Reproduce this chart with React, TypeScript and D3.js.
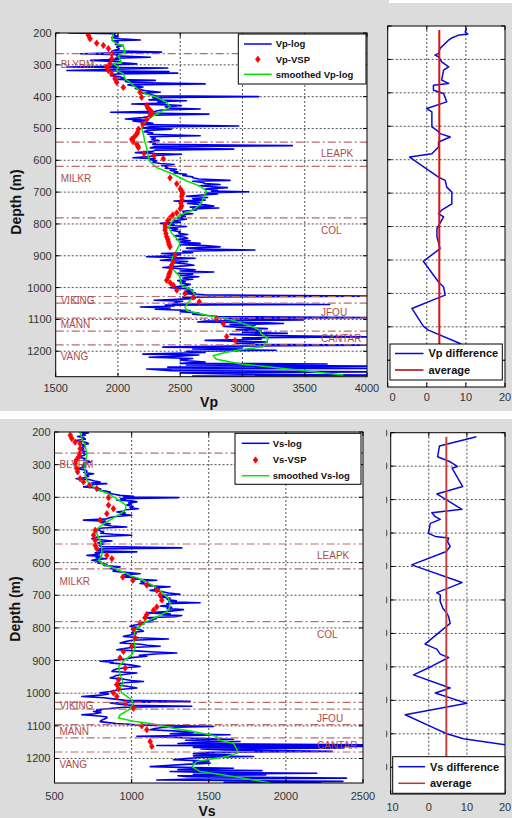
import * as d3 from "d3";

type P = [number, number];

// axis ticks
const depthTicks = [200, 300, 400, 500, 600, 700, 800, 900, 1000, 1100, 1200];
const vpTicks = [1500, 2000, 2500, 3000, 3500, 4000];
const vsTicks = [500, 1000, 1500, 2000, 2500];
const diffTicks = [-10, 0, 10, 20];

// formation tops (m) and labels
const formationTops = [265, 543, 619, 781, 1028, 1049, 1096, 1137, 1180];
const formationNames = ["BLYRM", "MILKR", "LEAPK", "COL", "VIKING", "JFOU", "MANN", "CANTAR", "VANG"];
const formationLabelDepths = [300, 658, 579, 820, 1039, 1077, 1117, 1160, 1217];
const formationSides = ["L", "L", "R", "R", "L", "R", "L", "R", "L"];

// [depth, Vp]
const vpLog: P[] = [
  [200, 1600], [202, 1980], [206, 1960], [210, 2000], [214, 1950], [218, 2020], [222, 2180], [224, 1960], [230, 2000], [236, 1980],
  [239, 2040], [244, 1990], [250, 2010], [256, 1960], [260, 2350], [262, 2000], [265, 1700], [268, 2010], [272, 1990], [276, 2260],
  [279, 1980], [283, 2010], [286, 1780], [290, 2000], [294, 2040], [297, 2150], [300, 1960], [304, 1990], [307, 1590], [310, 2400],
  [314, 1980], [318, 1590], [321, 2410], [324, 2000], [326, 2480], [329, 1990], [334, 1940], [338, 2020], [342, 2050], [346, 2000],
  [349, 2300], [352, 2060], [356, 2100], [360, 2700], [363, 2080], [366, 2120], [370, 2200], [374, 2140], [378, 2180], [382, 2230],
  [386, 2340], [389, 2200], [393, 2260], [397, 2300], [400, 3130], [403, 2280], [407, 2350], [410, 2250], [413, 2550], [416, 2320],
  [420, 2380], [423, 2110], [426, 2400], [428, 2510], [432, 2380], [436, 2420], [439, 2660], [442, 2350], [446, 2300], [449, 1940],
  [452, 2330], [455, 2730], [458, 2280], [462, 2250], [466, 2200], [470, 2060], [474, 2240], [476, 2120], [480, 2200], [484, 2280],
  [488, 2210], [492, 2970], [495, 2260], [499, 2200], [502, 2430], [506, 2240], [510, 2210], [514, 2280], [518, 2240], [523, 2660],
  [526, 2260], [530, 2300], [534, 2270], [538, 2330], [542, 2250], [546, 2300], [550, 2280], [554, 3400], [557, 2300], [561, 2260],
  [565, 2930], [568, 2300], [572, 2280], [576, 2140], [579, 2300], [581, 2510], [585, 2300], [588, 2250], [592, 2120], [595, 2300],
  [598, 2260], [602, 2310], [606, 2280], [610, 2340], [613, 2450], [617, 2350], [621, 2400], [625, 2380], [628, 2470], [632, 2420],
  [636, 2480], [640, 2450], [644, 2550], [648, 2520], [652, 2600], [655, 2600], [659, 2650], [663, 2900], [666, 2600], [670, 2680],
  [673, 2700], [676, 2820], [680, 2650], [683, 2750], [686, 2880], [690, 2700], [694, 2800], [697, 2750], [699, 3050], [703, 2700],
  [706, 2800], [710, 2650], [713, 2550], [717, 2720], [721, 2600], [725, 2700], [728, 2450], [732, 2660], [736, 2560], [740, 2700],
  [744, 2770], [747, 2580], [750, 2810], [753, 2600], [756, 2630], [760, 2520], [765, 2530], [768, 2600], [772, 2500], [776, 2540],
  [781, 2480], [785, 2550], [790, 2440], [795, 2500], [798, 2340], [802, 2450], [805, 2420], [808, 2550], [812, 2400], [816, 2480],
  [820, 2430], [825, 2500], [829, 2490], [833, 2560], [837, 2450], [841, 2530], [845, 2560], [849, 2470], [853, 2580], [857, 2500],
  [861, 2660], [865, 2500], [868, 2700], [872, 2820], [876, 2550], [879, 2650], [882, 3100], [886, 2520], [890, 2600], [893, 2350],
  [897, 2500], [900, 2420], [903, 2230], [906, 2500], [908, 2620], [911, 2430], [914, 2340], [918, 2560], [922, 2450], [926, 2550],
  [930, 2610], [934, 2450], [937, 2360], [940, 2470], [944, 2620], [948, 2500], [951, 2770], [955, 2480], [958, 2600], [962, 2500],
  [966, 2650], [970, 2520], [974, 2600], [978, 2480], [982, 2540], [986, 2500], [990, 2580], [993, 2560], [997, 2480], [1000, 2420],
  [1004, 2560], [1008, 2600], [1012, 2540], [1016, 2620], [1019, 2540], [1023, 2700], [1027, 4100], [1030, 2520], [1034, 2620], [1037, 2480],
  [1040, 2290], [1043, 2520], [1047, 2460], [1051, 2440], [1053, 3700], [1055, 2380], [1058, 2450], [1061, 2180], [1064, 2420], [1068, 2300],
  [1072, 2580], [1076, 2500], [1080, 2650], [1084, 2600], [1087, 2700], [1091, 2800], [1094, 4100], [1097, 2850], [1100, 3140], [1102, 3490],
  [1105, 2700], [1108, 2640], [1111, 3200], [1113, 3330], [1116, 2900], [1119, 3100], [1122, 2850], [1126, 3050], [1129, 3200], [1132, 2950],
  [1136, 3150], [1140, 3000], [1144, 3360], [1147, 2900], [1151, 3200], [1155, 4100], [1158, 3000], [1162, 3150], [1166, 2700], [1169, 3000],
  [1171, 3200], [1175, 2950], [1178, 3100], [1181, 4100], [1184, 2900], [1187, 2360], [1190, 3000], [1193, 2600], [1197, 3270], [1200, 2550],
  [1204, 2700], [1209, 2200], [1212, 2650], [1216, 2450], [1219, 2250], [1223, 2600], [1227, 2500], [1230, 2560], [1234, 2700], [1238, 2500],
  [1240, 3680], [1243, 2550], [1247, 4100], [1250, 2400], [1254, 4100], [1256, 2230], [1261, 2430], [1265, 4100], [1268, 2500], [1272, 3000],
  [1275, 4100], [1278, 2600], [1280, 3000],
];

const vpVsp: P[] = [
  [207, 1762], [218, 1776], [232, 1829], [239, 1883], [249, 1923], [265, 1950], [281, 1950], [297, 1936], [307, 1909], [318, 1923],
  [328, 1950], [344, 1976], [355, 1990], [371, 2043], [386, 2177], [402, 2190], [428, 2231], [436, 2240], [442, 2257], [449, 2271],
  [458, 2260], [471, 2231], [486, 2200], [502, 2164], [512, 2157], [518, 2150], [527, 2130], [534, 2110], [541, 2120], [549, 2150],
  [555, 2160], [560, 2164], [579, 2209], [586, 2289], [595, 2364], [655, 2418], [674, 2472], [690, 2500], [697, 2512], [705, 2520],
  [713, 2512], [725, 2515], [735, 2505], [744, 2512], [752, 2500], [765, 2472], [772, 2440], [781, 2418], [790, 2400], [803, 2378],
  [810, 2380], [819, 2378], [830, 2385], [840, 2391], [848, 2400], [856, 2405], [864, 2410], [872, 2418], [898, 2458], [919, 2445],
  [930, 2430], [940, 2425], [951, 2418], [958, 2410], [966, 2405], [977, 2391], [985, 2420], [993, 2445], [1008, 2472], [1019, 2538],
  [1030, 2605], [1045, 2653], [1098, 2792], [1114, 2846], [1154, 2873], [1166, 2940],
];

const vpSmooth: P[] = [
  [200, 1963], [210, 1960], [223, 1950], [234, 1990], [239, 2043], [250, 2050], [260, 2056], [270, 2003], [282, 2015], [292, 2030],
  [297, 1963], [307, 2003], [318, 1990], [328, 2043], [344, 2056], [355, 2097], [365, 2123], [381, 2177], [392, 2230], [402, 2311],
  [418, 2391], [432, 2418], [444, 2364], [460, 2284], [476, 2230], [492, 2190], [505, 2195], [518, 2204], [540, 2215], [560, 2230],
  [580, 2240], [602, 2252], [623, 2311], [644, 2445], [665, 2552], [681, 2659], [697, 2712], [718, 2686], [735, 2670], [756, 2605],
  [772, 2500], [787, 2445], [808, 2405], [829, 2431], [845, 2470], [861, 2498], [882, 2472], [903, 2440], [935, 2423], [966, 2498],
  [993, 2511], [1008, 2592], [1024, 2619], [1040, 2578], [1061, 2538], [1072, 2552], [1087, 2712], [1103, 2926], [1124, 3087], [1134, 3139],
  [1145, 3150], [1160, 3206], [1172, 3190], [1186, 3166], [1195, 2984], [1205, 2850], [1214, 2765], [1225, 2790], [1240, 2990], [1255, 3350],
  [1275, 3810],
];

// [depth, Vs]
const vsLog: P[] = [
  [200, 660], [203, 720], [206, 680], [210, 700], [214, 650], [218, 690], [222, 700], [226, 634], [230, 690], [233, 710],
  [236, 720], [240, 680], [244, 700], [248, 670], [252, 690], [256, 666], [260, 700], [264, 680], [268, 700], [272, 690],
  [277, 645], [281, 700], [285, 690], [289, 720], [292, 731], [296, 690], [300, 700], [304, 680], [308, 700], [312, 634],
  [316, 700], [320, 710], [324, 690], [328, 753], [332, 700], [336, 720], [340, 690], [343, 640], [346, 730], [350, 760],
  [353, 796], [356, 740], [358, 839], [361, 750], [364, 740], [368, 688], [371, 770], [375, 800], [378, 780], [381, 830],
  [384, 861], [387, 850], [390, 880], [394, 925], [397, 1012], [399, 950], [401, 1304], [404, 930], [407, 960], [409, 904],
  [411, 1000], [414, 1034], [417, 980], [420, 1000], [424, 969], [428, 1010], [432, 990], [435, 1044], [438, 960], [442, 950],
  [445, 904], [448, 960], [452, 930], [455, 1001], [459, 900], [462, 860], [466, 840], [470, 688], [473, 830], [477, 800],
  [481, 861], [484, 820], [488, 870], [491, 969], [494, 810], [498, 780], [503, 796], [506, 820], [510, 800], [513, 880],
  [516, 1001], [520, 800], [523, 760], [527, 742], [530, 800], [534, 872], [537, 800], [540, 780], [543, 820], [547, 790],
  [551, 800], [555, 1325], [558, 790], [561, 810], [564, 780], [567, 1034], [570, 764], [574, 790], [578, 710], [581, 800],
  [585, 770], [588, 839], [591, 760], [593, 742], [597, 800], [601, 780], [605, 840], [609, 820], [613, 925], [618, 861],
  [622, 900], [626, 880], [630, 960], [634, 1055], [637, 950], [640, 990], [644, 947], [647, 1040], [650, 1010], [654, 1163],
  [657, 1060], [661, 1080], [664, 1055], [668, 1130], [671, 1100], [674, 1250], [678, 1150], [682, 1180], [685, 1120], [689, 1200],
  [693, 1240], [697, 1314], [700, 1200], [703, 1220], [705, 1185], [709, 1250], [713, 1230], [717, 1290], [720, 1240], [723, 1444],
  [726, 1228], [730, 1240], [733, 1185], [737, 1260], [741, 1230], [744, 1336], [747, 1280], [750, 1220], [754, 1098], [757, 1250],
  [760, 1200], [762, 1325], [766, 1282], [769, 1077], [772, 1160], [776, 1120], [780, 1142], [784, 1050], [788, 1080], [791, 1020],
  [795, 990], [799, 1040], [803, 1020], [806, 1060], [810, 1077], [814, 1000], [818, 1030], [822, 990], [826, 947], [830, 1050],
  [834, 1239], [838, 1000], [842, 960], [846, 925], [850, 1060], [853, 1100], [856, 1185], [860, 1000], [864, 940], [867, 904],
  [871, 1050], [874, 1150], [877, 1293], [880, 1150], [884, 1050], [887, 1098], [891, 1000], [895, 960], [899, 880], [902, 796],
  [905, 880], [907, 861], [911, 950], [914, 1000], [918, 1055], [922, 960], [926, 900], [930, 880], [933, 872], [936, 960],
  [938, 1034], [942, 960], [946, 900], [950, 880], [953, 861], [957, 950], [961, 1000], [964, 1077], [968, 950], [971, 910],
  [974, 893], [978, 960], [981, 1000], [984, 1034], [988, 940], [991, 900], [995, 860], [999, 796], [1002, 850], [1006, 800],
  [1010, 677], [1014, 820], [1018, 893], [1022, 960], [1025, 1379], [1028, 1000], [1030, 861], [1034, 920], [1037, 1000], [1040, 1390],
  [1043, 950], [1047, 860], [1051, 774], [1054, 800], [1056, 753], [1060, 800], [1063, 760], [1066, 677], [1070, 790], [1073, 840],
  [1076, 839], [1080, 820], [1084, 800], [1087, 796], [1090, 850], [1093, 900], [1097, 1034], [1100, 1336], [1102, 1530], [1105, 1200],
  [1108, 1150], [1112, 1120], [1116, 1300], [1120, 1400], [1124, 1250], [1127, 1638], [1130, 1300], [1132, 1034], [1135, 1250], [1138, 1400],
  [1141, 1660], [1144, 1350], [1148, 1703], [1151, 1400], [1154, 1300], [1158, 2600], [1160, 1163], [1163, 2600], [1166, 1400], [1168, 2371],
  [1171, 1450], [1174, 1600], [1178, 2300], [1181, 1500], [1185, 1400], [1188, 1650], [1192, 1401], [1194, 1790], [1197, 1450], [1200, 1350],
  [1204, 1271], [1208, 1500], [1211, 1400], [1214, 1509], [1218, 1350], [1222, 1200], [1225, 1120], [1228, 1400], [1230, 1660], [1234, 1300],
  [1237, 1845], [1240, 1250], [1243, 1500], [1245, 2200], [1248, 1400], [1250, 1870], [1253, 1300], [1256, 1358], [1260, 2393], [1263, 1400],
  [1266, 1163], [1270, 2370], [1273, 1600], [1275, 2230],
];

const vsVsp: P[] = [
  [210, 602], [220, 612], [231, 634], [236, 666], [251, 666], [266, 662], [277, 656], [287, 640], [297, 634], [312, 645],
  [322, 650], [343, 666], [353, 688], [363, 727], [373, 774], [401, 850], [424, 850], [435, 882], [450, 839], [470, 796],
  [501, 764], [516, 753], [532, 764], [547, 764], [557, 774], [578, 839], [588, 872], [644, 943], [654, 1008], [669, 1098],
  [685, 1163], [700, 1185], [715, 1196], [736, 1163], [746, 1142], [759, 1098], [769, 1087], [785, 1055], [805, 1012], [831, 1023],
  [856, 1001], [872, 947], [892, 925], [923, 958], [959, 915], [974, 904], [987, 915], [999, 882], [1010, 904], [1030, 958],
  [1046, 1012], [1100, 1066], [1112, 1098], [1148, 1120], [1163, 1131],
];

const vsSmooth: P[] = [
  [200, 666], [220, 677], [241, 699], [266, 710], [297, 699], [328, 699], [348, 710], [363, 731], [379, 796], [389, 850],
  [409, 915], [424, 964], [440, 958], [460, 893], [481, 818], [496, 779], [511, 774], [532, 796], [557, 807], [578, 807],
  [593, 785], [603, 807], [618, 893], [639, 990], [654, 1077], [674, 1152], [695, 1206], [710, 1239], [725, 1250], [738, 1245],
  [751, 1228], [766, 1163], [780, 1098], [805, 1023], [831, 1012], [861, 1023], [882, 1001], [897, 958], [918, 915], [943, 925],
  [969, 947], [984, 925], [999, 936], [1010, 969], [1020, 1001], [1035, 1012], [1051, 980], [1066, 925], [1076, 915], [1086, 1012],
  [1094, 1142], [1107, 1271], [1117, 1401], [1132, 1552], [1143, 1563], [1153, 1660], [1182, 1693], [1194, 1617], [1209, 1422], [1225, 1390],
  [1240, 1444], [1255, 1660], [1265, 1780], [1275, 1900],
];

// [depth, difference]
const vpDiff: P[] = [
  [207, 10.2], [218, 9.8], [224, 10.5], [228, 8.0], [235, 6.5], [242, 5.6], [267, 3.4], [282, 3.0], [287, 2.1], [292, 3.0],
  [307, 3.8], [322, 5.6], [332, 4.3], [362, 3.8], [372, 5.6], [377, 1.7], [392, 1.7], [402, 4.3], [427, 5.1], [447, 0],
  [457, 1.3], [502, 1.3], [512, 2.6], [522, 3.4], [532, 6.0], [547, 3.0], [562, 3.0], [582, 1.3], [592, -4.4], [652, 3.0],
  [662, 4.7], [682, 5.1], [697, 6.4], [732, 6.4], [751, 3.8], [761, 3.0], [771, 4.3], [806, 2.6], [831, 2.6], [866, 3.4],
  [904, -0.9], [966, 3.0], [981, 4.3], [1005, 4.7], [1017, 2.1], [1045, -3.8], [1098, -0.9], [1110, 0.4], [1150, 8.5], [1170, 11],
  [1200, 12],
];
const vpDiffAvg = 3.2;

const vsDiff: P[] = [
  [212, 12.5], [240, 2.8], [272, 2.3], [287, 5.6], [301, 7.5], [306, 6.1], [361, 8.9], [383, 2.1], [429, 8.7], [439, 0.8],
  [451, 1.7], [459, 3.0], [471, 0.4], [501, -0.1], [510, 1.7], [515, 5.2], [525, 4.9], [540, 5.6], [555, 4.6], [595, -4.5],
  [648, 8.7], [678, 2.1], [685, 3.0], [705, 3.0], [725, 3.7], [739, 4.7], [750, 5.2], [760, 5.4], [770, 5.6], [832, -1.0],
  [847, 2.1], [862, 3.0], [872, 5.2], [898, 0.8], [924, -4.0], [963, 5.6], [978, 1.7], [1009, 10], [1043, -6.2], [1075, -0.1],
  [1100, 4.7], [1115, 9.1], [1133, 20], [1150, 24],
];
const vsDiffAvg = 4.6;

const FONT = "'Liberation Sans', Arial, Helvetica, sans-serif";
const GRAY = "#dcdcdc";

function Grid({ box, x, y, xTicks, yDomain }: any) {
  return (
    <g stroke="#000" strokeWidth={0.8} strokeDasharray="2,2" opacity={0.85}>
      {xTicks.filter((t: number) => x(t) > box.l + 1 && x(t) < box.r - 1).map((t: number) => (
        <line key={"gx" + t} x1={x(t)} x2={x(t)} y1={box.t} y2={box.b} />
      ))}
      {depthTicks.filter(t => t > yDomain[0] && t < yDomain[1]).map(t => (
        <line key={"gy" + t} x1={box.l} x2={box.r} y1={y(t)} y2={y(t)} />
      ))}
    </g>
  );
}

function Frame({ box, x, y, xTicks, yDomain }: any) {
  const ticks: any[] = [];
  xTicks.forEach((t: number) => {
    ticks.push(<line key={"tb" + t} x1={x(t)} x2={x(t)} y1={box.b} y2={box.b - 4} />);
    ticks.push(<line key={"tt" + t} x1={x(t)} x2={x(t)} y1={box.t} y2={box.t + 4} />);
  });
  depthTicks.filter(t => t >= yDomain[0] && t <= yDomain[1]).forEach(t => {
    ticks.push(<line key={"tl" + t} x1={box.l} x2={box.l + 4} y1={y(t)} y2={y(t)} />);
    ticks.push(<line key={"tr" + t} x1={box.r} x2={box.r - 4} y1={y(t)} y2={y(t)} />);
  });
  return (
    <g stroke="#000" strokeWidth={1} fill="none">
      <rect x={box.l} y={box.t} width={box.r - box.l} height={box.b - box.t} />
      {ticks}
    </g>
  );
}

// small red VSP marker: square diamond stretched vertically
const marker = d3.symbol().type(d3.symbolDiamond2).size(14)() as string;

function LogPanel(props: any) {
  const { id, box, xDomain, yDomain, xTicks, log, vsp, smooth, names, legend, xLabel, xLabelPos, yLabelPos, tickGap } = props;
  const x = d3.scaleLinear().domain(xDomain).range([box.l, box.r]);
  const y = d3.scaleLinear().domain(yDomain).range([box.t, box.b]);
  const line = d3.line<P>().x(p => x(p[1])).y(p => y(p[0]));
  const lg = legend;
  const lineMid = (lg.lx0 + lg.lx1) / 2;
  return (
    <g>
      <rect x={box.l} y={box.t} width={box.r - box.l} height={box.b - box.t} fill="#fff" />
      <clipPath id={id}>
        <rect x={box.l} y={box.t} width={box.r - box.l} height={box.b - box.t} />
      </clipPath>
      <Grid box={box} x={x} y={y} xTicks={xTicks} yDomain={yDomain} />
      <g clipPath={`url(#${id})`}>
        <path d={line(log) as string} fill="none" stroke="#0000f0" strokeWidth={1.6} strokeLinejoin="round" />
        <path d={line(smooth) as string} fill="none" stroke="#00e600" strokeWidth={1.5} />
        {vsp.map((p: P, i: number) => (
          <path key={i} d={marker} transform={`translate(${x(p[1])},${y(p[0])}) scale(1,1.35)`} fill="#ff0000" stroke="#ff0000" strokeWidth={0.6} />
        ))}
        {formationTops.map(d => (
          <line key={"f" + d} x1={box.l} x2={box.r} y1={y(d)} y2={y(d)} stroke="#b96a6a" strokeWidth={1.2} strokeDasharray="8,3,2,3" />
        ))}
        {formationNames.map((n, i) => (
          <text key={n} x={formationSides[i] === "L" ? box.l + 5 : box.r - 46} y={y(formationLabelDepths[i])} dy="0.35em"
            fontSize={10} fill="#b04848">{n}</text>
        ))}
      </g>
      <Frame box={box} x={x} y={y} xTicks={xTicks} yDomain={yDomain} />
      {depthTicks.map(t => (
        <text key={"yl" + t} x={box.l - 4} y={y(t)} dy="0.36em" textAnchor="end" fontSize={11} fill="#333">{t}</text>
      ))}
      {xTicks.map((t: number) => (
        <text key={"xl" + t} x={x(t)} y={box.b + tickGap} textAnchor="middle" fontSize={11} fill="#333">{t}</text>
      ))}
      <text x={xLabelPos[0]} y={xLabelPos[1]} textAnchor="middle" fontSize={14} fontWeight="bold" fill="#111">{xLabel}</text>
      <text transform={`translate(${yLabelPos[0]},${yLabelPos[1]}) rotate(-90)`} textAnchor="middle" fontSize={14} fontWeight="bold" fill="#111">Depth (m)</text>
      <g>
        <rect x={lg.x} y={lg.y} width={lg.w} height={lg.h} fill="#fff" stroke="#000" strokeWidth={1} />
        <line x1={lg.lx0} x2={lg.lx1} y1={lg.rows[0]} y2={lg.rows[0]} stroke="#0000f0" strokeWidth={1.5} />
        <path d={marker} transform={`translate(${lineMid},${lg.rows[1]}) scale(1,1.35)`} fill="#ff0000" stroke="#ff0000" strokeWidth={0.6} />
        <line x1={lg.lx0} x2={lg.lx1} y1={lg.rows[2]} y2={lg.rows[2]} stroke="#00e600" strokeWidth={1.5} />
        {names.map((n: string, i: number) => (
          <text key={n} x={lg.tx} y={lg.rows[i]} dy="0.35em" fontSize={9.5} fontWeight="bold" fill="#111">{n}</text>
        ))}
      </g>
    </g>
  );
}

function DiffPanel(props: any) {
  const { id, box, data, avg, avgColor, names, legend, edge, showDepthLabels, tickGap } = props;
  const yDomain = [200, 1280];
  const x = d3.scaleLinear().domain([-10, 20]).range([box.l, box.r]);
  const y = d3.scaleLinear().domain(yDomain).range([box.t, box.b]);
  const line = d3.line<P>().x(p => x(p[1])).y(p => y(p[0]));
  const lg = legend;
  return (
    <g>
      <clipPath id={id + "-edge"}>
        <rect x={edge} y={0} width={512 - edge} height={818} />
      </clipPath>
      <rect x={box.l} y={box.t} width={box.r - box.l} height={box.b - box.t} fill="#fff" />
      <clipPath id={id}>
        <rect x={box.l} y={box.t} width={box.r - box.l} height={box.b - box.t} />
      </clipPath>
      <Grid box={box} x={x} y={y} xTicks={diffTicks} yDomain={yDomain} />
      <g clipPath={`url(#${id})`}>
        <path d={line(data) as string} fill="none" stroke="#0a0ad8" strokeWidth={1.5} strokeLinejoin="round" />
        <line x1={x(avg)} x2={x(avg)} y1={y(212)} y2={y(1240)} stroke={avgColor} strokeWidth={2} />
      </g>
      <Frame box={box} x={x} y={y} xTicks={diffTicks} yDomain={yDomain} />
      <g clipPath={`url(#${id}-edge)`}>
        {diffTicks.map(t => (
          <text key={"xl" + t} x={x(t)} y={box.b + tickGap} textAnchor="middle" fontSize={11} fill="#333">{t}</text>
        ))}
        {showDepthLabels && depthTicks.map(t => (
          <text key={"yl" + t} x={box.l - 3} y={y(t)} dy="0.36em" textAnchor="end" fontSize={11} fill="#333">{t}</text>
        ))}
      </g>
      <g>
        <rect x={lg.x} y={lg.y} width={lg.w} height={lg.h} fill="#fff" stroke="#000" strokeWidth={1} />
        <line x1={lg.lx0} x2={lg.lx1} y1={lg.rows[0]} y2={lg.rows[0]} stroke="#0a0ad8" strokeWidth={1.5} />
        <line x1={lg.lx0} x2={lg.lx1} y1={lg.rows[1]} y2={lg.rows[1]} stroke={lg.avgLegendColor} strokeWidth={1.5} />
        {names.map((n: string, i: number) => (
          <text key={n} x={lg.tx} y={lg.rows[i]} dy="0.35em" fontSize={11} fontWeight="bold" fill="#111">{n}</text>
        ))}
      </g>
    </g>
  );
}

export default function App() {
  return (
    <svg width={512} height={818} viewBox="0 0 512 818" fontFamily={FONT}
      style={{ position: "absolute", left: 0, top: 0, display: "block" }}>
      <rect x={0} y={0} width={512} height={818} fill="#fff" />
      <rect x={0} y={0} width={389} height={411} fill={GRAY} />
      <rect x={389} y={3} width={123} height={408} fill={GRAY} />
      <rect x={0} y={419} width={512} height={399} fill={GRAY} />

      <LogPanel id="vp" box={{ l: 55.7, r: 367, t: 33, b: 376.7 }} xDomain={[1500, 4000]} yDomain={[200, 1280]}
        xTicks={vpTicks} log={vpLog} vsp={vpVsp} smooth={vpSmooth}
        names={["Vp-log", "Vp-VSP", "smoothed Vp-log"]}
        legend={{ x: 238.3, y: 34, w: 127.7, h: 50, rows: [44, 59.3, 74.3], lx0: 244, lx1: 271.7, tx: 275.7 }}
        xLabel="Vp" xLabelPos={[209, 407]} yLabelPos={[21, 202]} tickGap={15} />

      <DiffPanel id="vpd" box={{ l: 387.7, r: 505, t: 26, b: 387 }} data={vpDiff} avg={vpDiffAvg} avgColor="#e01010"
        names={["Vp difference", "average"]} edge={389} showDepthLabels={false} tickGap={14}
        legend={{ x: 390, y: 344, w: 112.3, h: 36, rows: [353.5, 370], lx0: 395, lx1: 423.5, tx: 428.5, avgLegendColor: "#b00000" }} />

      <LogPanel id="vs" box={{ l: 54.5, r: 363, t: 432, b: 783 }} xDomain={[500, 2500]} yDomain={[200, 1275]}
        xTicks={vsTicks} log={vsLog} vsp={vsVsp} smooth={vsSmooth}
        names={["Vs-log", "Vs-VSP", "smoothed Vs-log"]}
        legend={{ x: 235, y: 433.3, w: 126, h: 51, rows: [443.3, 460, 475.7], lx0: 241.7, lx1: 269.3, tx: 272.7 }}
        xLabel="Vs" xLabelPos={[207, 816]} yLabelPos={[20, 609]} tickGap={17} />

      <DiffPanel id="vsd" box={{ l: 390.7, r: 505, t: 432.7, b: 794 }} data={vsDiff} avg={vsDiffAvg} avgColor="#c84040"
        names={["Vs difference", "average"]} edge={386} showDepthLabels={true} tickGap={16.5}
        legend={{ x: 392.7, y: 756.7, w: 112.3, h: 36.6, rows: [766.7, 783.3], lx0: 398.3, lx1: 425, tx: 430, avgLegendColor: "#c03030" }} />
    </svg>
  );
}
